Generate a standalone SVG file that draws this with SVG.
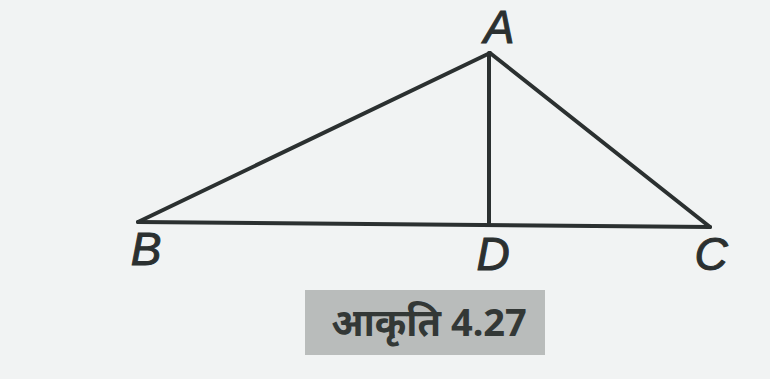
<svg xmlns="http://www.w3.org/2000/svg" width="770" height="379" viewBox="0 0 770 379">
<style>
.ln{stroke:#2b3030;stroke-width:4;fill:none;stroke-linecap:round}
.lb{font-family:"Liberation Sans",Arial,sans-serif;font-style:italic;font-size:46px;fill:#2b3030;stroke:#2b3030;stroke-width:1;text-anchor:middle}
.cap{font-family:"Noto Sans","Noto Sans Devanagari","Liberation Sans",sans-serif;font-weight:bold;font-size:38px;fill:#333836;text-anchor:middle}
</style>
<rect width="770" height="379" fill="#f1f3f3"/>
<g id="connectors">
<line class="ln" x1="138" y1="222" x2="490" y2="53"/>
<line class="ln" x1="490" y1="53" x2="710" y2="227"/>
<line class="ln" x1="138" y1="222" x2="710" y2="227"/>
<line class="ln" x1="489" y1="53" x2="489" y2="224"/>
</g>
<g id="A"><text class="lb" x="499" y="43">A</text></g>
<g id="B"><text class="lb" x="146" y="265">B</text></g>
<g id="D"><text class="lb" x="493" y="270">D</text></g>
<g id="C"><text class="lb" x="711" y="270">C</text></g>
<g id="caption">
<rect x="305" y="290" width="240" height="65" fill="#b9bcbb"/>
<text class="cap" x="429" y="336">आकृति 4.27</text>
</g>
</svg>
